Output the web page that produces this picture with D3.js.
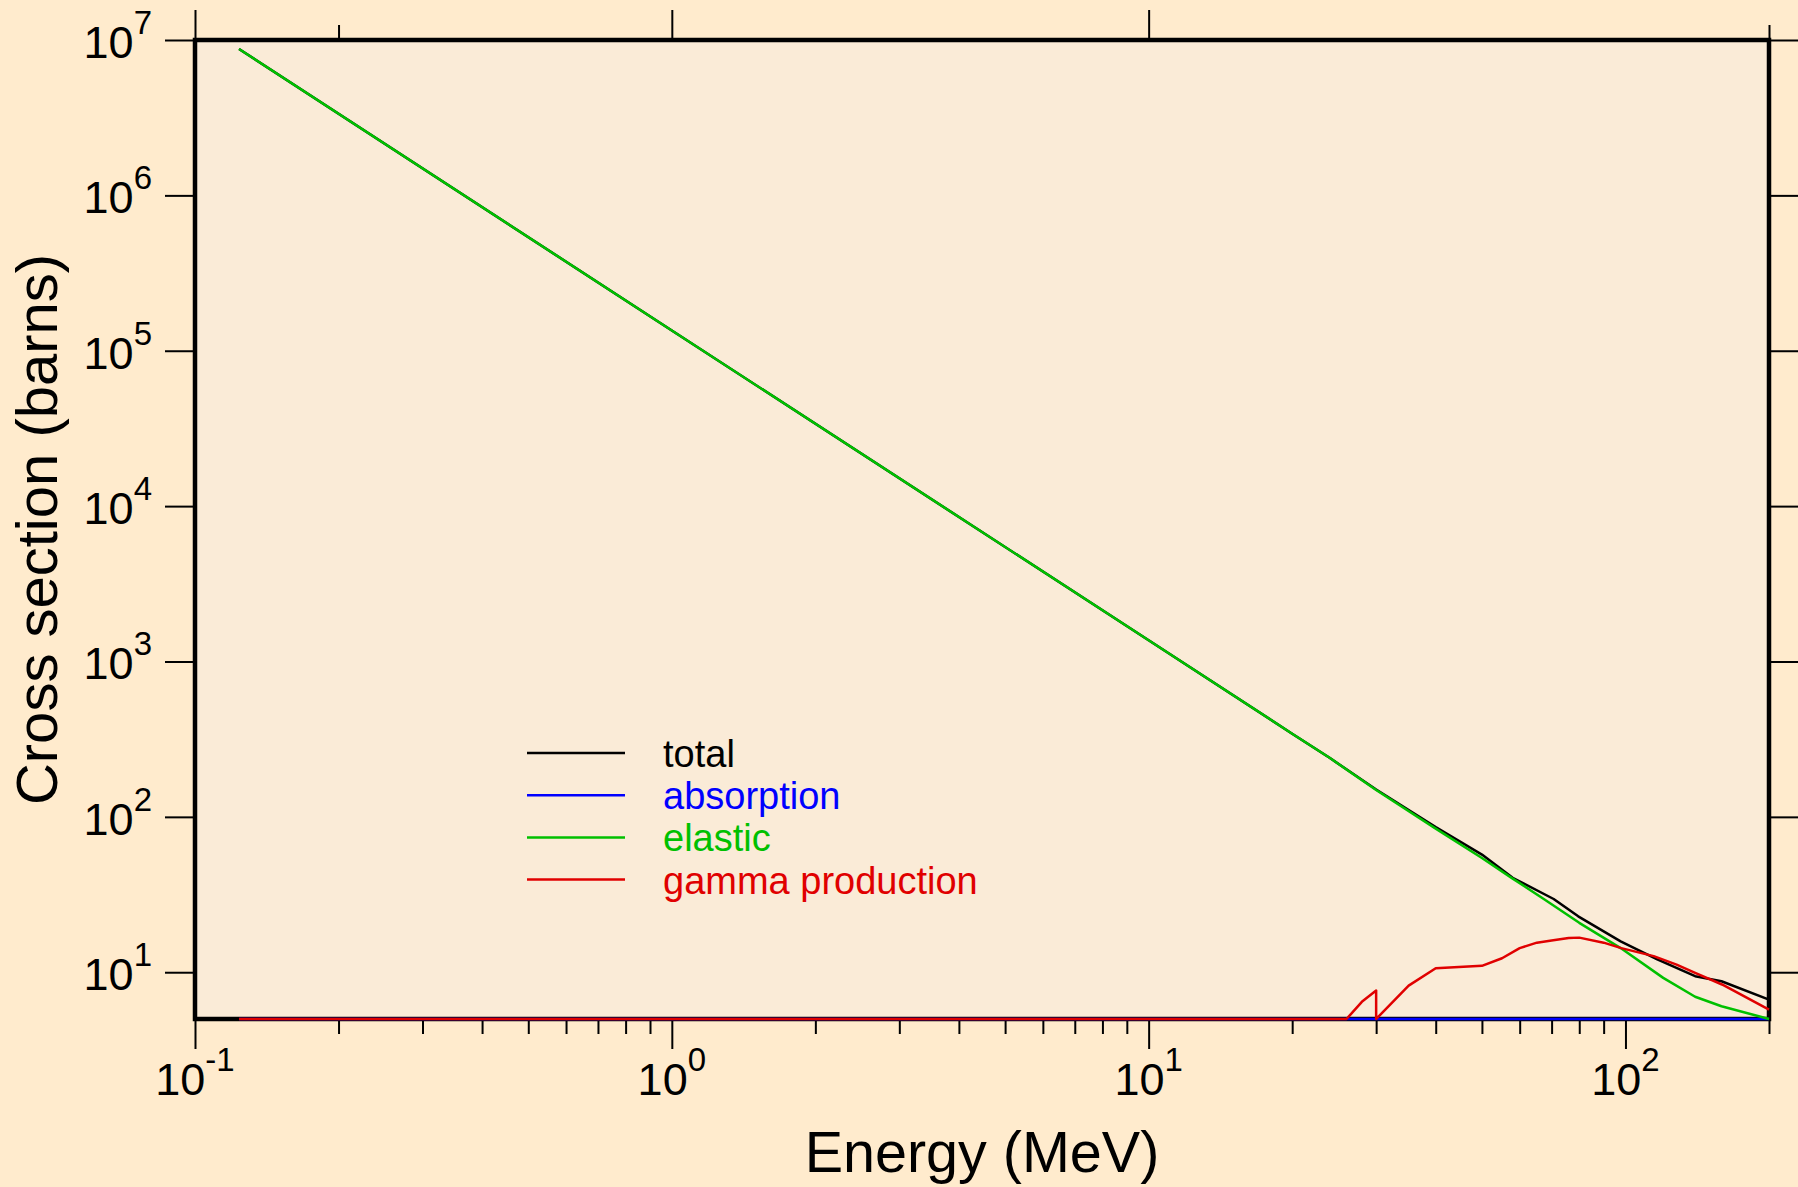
<!DOCTYPE html>
<html>
<head>
<meta charset="utf-8">
<script src="https://cdn.jsdelivr.net/npm/d3@7"></script>
<style>
  body { margin: 0; background: #ffebcd; }
  svg { display: block; font-family: "Liberation Sans", Arial, Helvetica, sans-serif; }
</style>
</head>
<body>
<svg id="chart" width="1798" height="1187"></svg>
<script>
// values: energy in MeV, cross section in barns
const totalEnergy = [0.1237, 1, 10, 20, 24, 30, 40, 50, 58, 70.7, 79.6, 97.7, 116.6, 140, 159, 200];
const totalXS     = [8.75e6, 1.35e5, 1370, 343, 239, 150, 86, 57.2, 40.5, 29.6, 22.9, 15.8, 12.1, 9.43, 8.75, 6.67];

const absorptionEnergy = [0.1237, 200];
const absorptionXS     = [0, 0];

const elasticEnergy = [0.1237, 1, 10, 20, 24, 30, 40, 50, 57.7, 67.4, 80, 97.7, 120, 140, 159, 200];
const elasticXS     = [8.75e6, 1.35e5, 1370, 343, 239, 149, 84, 54.4, 40.5, 29.6, 20.8, 14.3, 9.2, 6.95, 6.04, 5.0];

const gammaEnergy = [0.1237, 26, 28, 30, 30, 35.1, 40, 50, 55.1, 60, 65.2, 70, 76, 80, 90, 98, 114.6, 128, 140, 159.4, 200];
const gammaXS     = [0, 0, 6.45, 7.62, 0, 8.2, 10.6, 11.0, 12.3, 14.3, 15.5, 16.0, 16.6, 16.7, 15.5, 14.3, 12.7, 11.2, 9.9, 8.34, 5.75];

const xMajorTicks = [0.1, 1, 10, 100];
const xMinorTicks = [0.2, 0.3, 0.4, 0.5, 0.6, 0.7, 0.8, 0.9, 2, 3, 4, 5, 6, 7, 8, 9, 20, 30, 40, 50, 60, 70, 80, 90, 200];
const xTopMajorTicks = [0.1, 1, 10];
const xTopMinorTicks = [0.2, 200];
const xTickExponents = ["-1", "0", "1", "2"];
const yMajorTicks = [1e1, 1e2, 1e3, 1e4, 1e5, 1e6, 1e7];
const yTickExponents = ["1", "2", "3", "4", "5", "6", "7"];

const legendLabels = ["total", "absorption", "elastic", "gamma production"];
const seriesColors = ["#000000", "#0000ff", "#00c000", "#e00000"];

const svg = d3.select("#chart");
const margin = {top: 40, right: 29, bottom: 168, left: 195};
const width = +svg.attr("width") - margin.left - margin.right;
const height = +svg.attr("height") - margin.top - margin.bottom;

const x = d3.scaleLog().domain([0.1, 200]).range([0, width]);
const y = d3.scaleLog().domain([5, 1e7]).range([height, 0]).clamp(true);

const g = svg.append("g").attr("transform", "translate(" + margin.left + "," + margin.top + ")");

// plot area
g.append("rect")
    .attr("width", width)
    .attr("height", height)
    .attr("fill", "#faebd7");

// ticks on all four sides, pointing outward
function tickAxis(axis, transform) {
    let a = g.append("g").attr("transform", transform).call(axis);
    a.select(".domain").remove();
    a.selectAll("line").attr("stroke", "#000").attr("stroke-width", 2);
    a.selectAll("text").remove();
    return a;
}
tickAxis(d3.axisBottom(x).tickValues(xMajorTicks).tickSize(30), "translate(0," + height + ")");
tickAxis(d3.axisBottom(x).tickValues(xMinorTicks).tickSize(15), "translate(0," + height + ")");
tickAxis(d3.axisTop(x).tickValues(xTopMajorTicks).tickSize(30), "translate(0,0)");
tickAxis(d3.axisTop(x).tickValues(xTopMinorTicks).tickSize(15), "translate(0,0)");
tickAxis(d3.axisLeft(y).tickValues(yMajorTicks).tickSize(30), "translate(0,0)");
tickAxis(d3.axisRight(y).tickValues(yMajorTicks).tickSize(30), "translate(" + width + ",0)");

// frame
g.append("rect")
    .attr("width", width)
    .attr("height", height)
    .attr("fill", "none")
    .attr("stroke", "#000")
    .attr("stroke-width", 4.5);

// tick labels as 10 with a raised exponent
xMajorTicks.forEach(function(v, i) {
    let t = g.append("text")
        .attr("x", x(v))
        .attr("y", height + 76)
        .attr("text-anchor", "middle")
        .attr("font-size", 45);
    t.append("tspan").text("10");
    t.append("tspan").attr("dy", -24).attr("font-size", 33).text(xTickExponents[i]);
});

yMajorTicks.forEach(function(v, i) {
    let t = g.append("text")
        .attr("x", -43)
        .attr("y", y(v) + 18)
        .attr("text-anchor", "end")
        .attr("font-size", 45);
    t.append("tspan").text("10");
    t.append("tspan").attr("dy", -24).attr("font-size", 33).text(yTickExponents[i]);
});

// axis titles
svg.append("text")
    .attr("x", margin.left + width / 2)
    .attr("y", 1172)
    .attr("text-anchor", "middle")
    .attr("font-size", 57.5)
    .text("Energy (MeV)");

svg.append("text")
    .attr("transform", "translate(57," + (margin.top + height / 2) + ") rotate(-90)")
    .attr("text-anchor", "middle")
    .attr("font-size", 58)
    .text("Cross section (barns)");

// curves
const line = d3.line()
    .x(function(d) { return x(d[0]); })
    .y(function(d) { return y(Math.max(d[1], y.domain()[0])); });

const series = [
    d3.zip(totalEnergy, totalXS),
    d3.zip(absorptionEnergy, absorptionXS),
    d3.zip(elasticEnergy, elasticXS),
    d3.zip(gammaEnergy, gammaXS)
];

series.forEach(function(points, i) {
    g.append("path")
        .datum(points)
        .attr("fill", "none")
        .attr("stroke", seriesColors[i])
        .attr("stroke-width", 2.5)
        .attr("stroke-linejoin", "round")
        .attr("d", line);
});

// legend
const legend = svg.append("g").attr("transform", "translate(527,753)");
legendLabels.forEach(function(label, i) {
    legend.append("line")
        .attr("x1", 0)
        .attr("x2", 98)
        .attr("y1", i * 42.2)
        .attr("y2", i * 42.2)
        .attr("stroke", seriesColors[i])
        .attr("stroke-width", 2.5);
    legend.append("text")
        .attr("x", 136)
        .attr("y", i * 42.2 + 14)
        .attr("font-size", 38)
        .attr("fill", seriesColors[i])
        .text(label);
});
</script>
</body>
</html>
